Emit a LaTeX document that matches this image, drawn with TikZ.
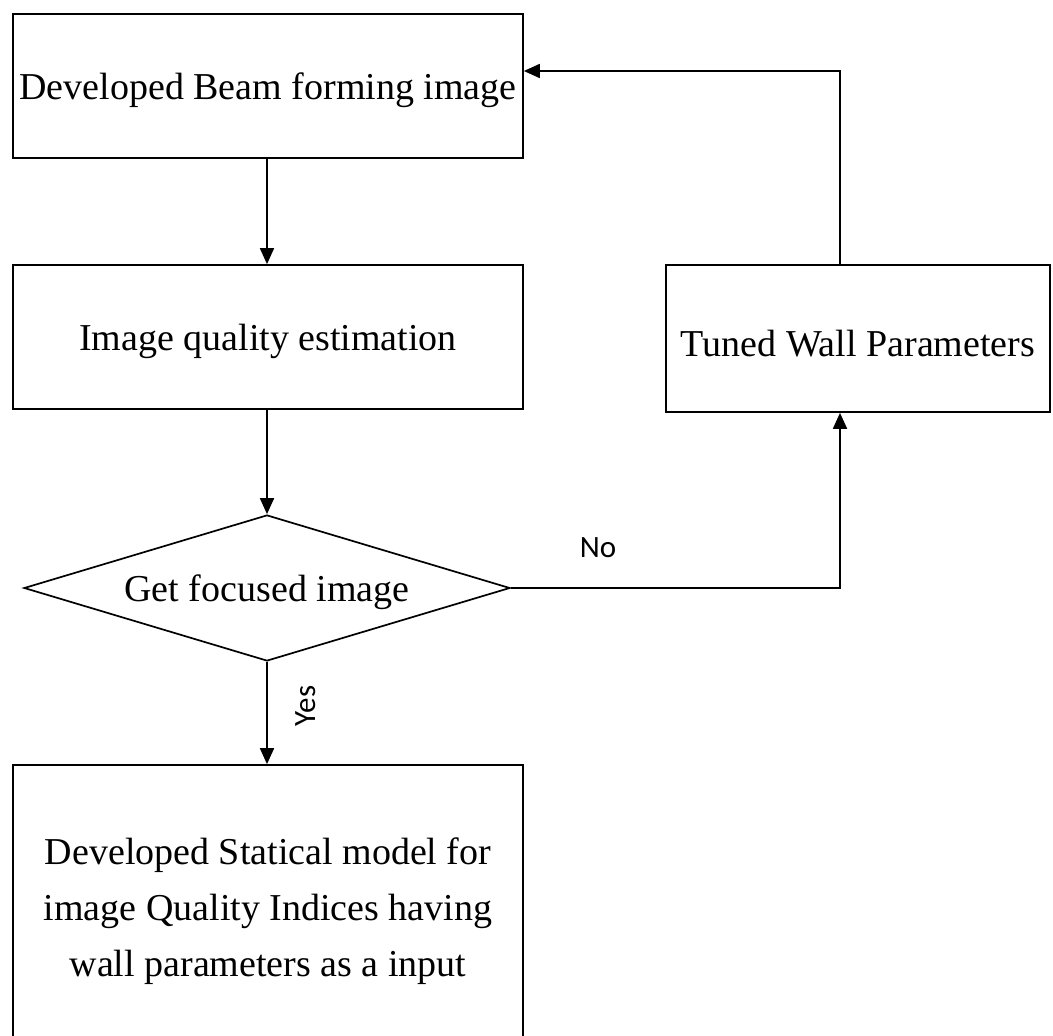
\documentclass[tikz,border=0pt]{standalone}
\usepackage{fontspec}
\setmainfont{Liberation Serif}
\newfontfamily\labelfont{Carlito}
\usetikzlibrary{arrows.meta,shapes.geometric}
\newcommand{\shiftdn}[2]{\raisebox{-#1}[0pt][0pt]{#2}}
\begin{document}
\begin{tikzpicture}[x=1pt,y=-1pt,
  box/.style={draw,line width=1.7pt,inner sep=0pt,font=\fontsize{38}{56}\selectfont,align=center},
  decision/.style={draw,diamond,line width=1.7pt,inner sep=0pt,shape aspect=3.33,font=\fontsize{38}{44}\selectfont},
  conn/.style={line width=1.8pt,-{Triangle[length=16pt,width=14pt]}},
  lbl/.style={font=\labelfont\fontsize{31}{34}\selectfont}]
\useasboundingbox (0,0) rectangle (1053,1036);
\node[box,minimum width=510pt,minimum height=144pt] (b1) at (268,86) {\shiftdn{13pt}{Developed Beam forming image}};
\node[box,minimum width=510pt,minimum height=144pt] (b2) at (268,337) {\shiftdn{13pt}{Image quality estimation}};
\node[decision,minimum width=486pt,minimum height=146pt] (d) at (267,588) {\shiftdn{13pt}{Get focused image}};
\node[box,minimum width=384pt,minimum height=147pt] (b3) at (858,338.5) {\shiftdn{18pt}{Tuned Wall Parameters}};
\node[box,minimum width=510pt,minimum height=280pt] (b4) at (268,905)
  {\shiftdn{12pt}{\parbox{500pt}{\centering\fontsize{38}{56}\selectfont Developed Statical model for\\image Quality Indices having\\wall parameters as a input}}};
\coordinate (c1) at (840,588);
\coordinate (c2) at (840,71);
\draw[conn] (b1.south -| 267,0) -- (b2.north -| 267,0);
\draw[conn] (b2.south -| 267,0) -- (d.north);
\draw[conn] (d.south) -- (b4.north -| 267,0);
\draw[conn] (d.east) -- (c1) -- (b3.south -| c1);
\draw[conn] (b3.north -| c2) -- (c2) -- (b1.east |- c2);
\node[lbl] (no) at (598,548) {No};
\node[lbl,rotate=90] (yes) at (306,706) {Yes};
\end{tikzpicture}
\end{document}
